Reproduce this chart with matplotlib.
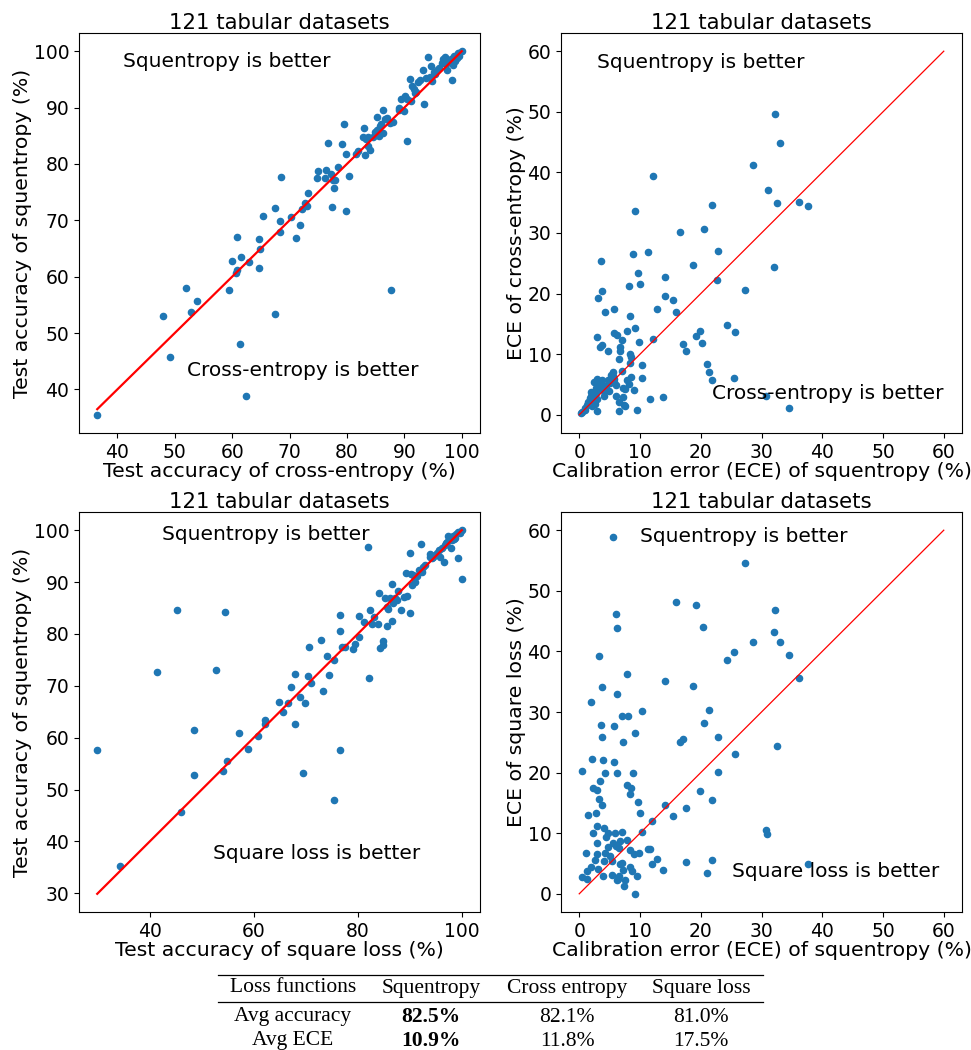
"""
Squentropy vs cross-entropy / square loss on 121 tabular datasets:
test accuracy and calibration error (ECE), one point per dataset.
"""

import matplotlib
matplotlib.use("Agg")
import matplotlib.pyplot as plt
from matplotlib.lines import Line2D


# Panel 1: accuracy, cross-entropy (x) vs squentropy (y)
acc_ce = [36.5, 47.9, 49.2, 52.0, 52.9, 53.9, 59.4, 60.0, 60.7, 60.8,
          60.9, 61.4, 61.5, 62.5, 63.0, 64.6, 64.6, 64.8, 65.4, 67.4,
          67.5, 68.3, 68.5, 68.3, 70.3, 71.1, 71.8, 72.2, 72.7, 73.0,
          73.3, 74.7, 75.0, 76.1, 76.3, 76.7, 77.3, 77.4, 77.8, 77.6,
          77.9, 78.5, 79.1, 79.4, 79.8, 79.9, 80.3, 81.6, 82.0, 82.8,
          83.0, 83.1, 83.3, 83.6, 83.7, 84.1, 84.6, 84.9, 85.2, 85.3,
          85.5, 85.8, 85.9, 86.3, 86.6, 86.9, 87.5, 87.6, 88.1, 89.0,
          89.1, 89.5, 89.9, 90.1, 90.4, 90.5, 91.0, 91.1, 91.3, 91.7,
          91.9, 92.3, 92.8, 93.2, 93.4, 93.8, 94.1, 94.5, 94.7, 94.8,
          95.1, 95.3, 95.6, 96.5, 96.8, 97.0, 97.2, 97.5, 97.7, 98.1,
          98.3, 98.5, 98.8, 99.0, 99.2, 99.4, 99.6, 100.0, 85.0, 98.3,
          98.5, 96.7, 99.2, 99.5, 86.2, 92.0, 96.1, 97.4, 98.6]
acc_sq_vs_ce = [35.5, 53.0, 45.8, 58.0, 53.7, 55.7, 57.7, 62.7, 60.6, 61.2,
                67.0, 48.1, 63.5, 38.9, 62.6, 66.6, 61.6, 65.0, 70.7, 72.1,
                53.3, 69.8, 77.6, 68.0, 70.6, 66.8, 69.1, 72.0, 73.1, 72.6,
                74.9, 77.5, 78.7, 77.5, 78.9, 83.7, 78.2, 72.4, 75.8, 77.2,
                77.2, 79.4, 83.5, 87.0, 81.8, 71.6, 77.9, 81.8, 82.3, 84.7,
                86.3, 81.6, 84.4, 84.8, 83.2, 82.5, 84.8, 85.7, 88.3, 86.1,
                84.9, 86.8, 87.1, 89.6, 88.0, 88.1, 87.3, 57.7, 87.4, 89.9,
                89.5, 91.5, 89.4, 92.0, 84.1, 91.6, 95.0, 91.2, 93.8, 93.3,
                92.6, 94.5, 94.8, 96.6, 90.6, 95.3, 99.0, 95.4, 97.3, 94.7,
                96.3, 95.9, 96.6, 97.9, 98.0, 99.0, 97.7, 96.7, 98.2, 98.6,
                94.8, 98.8, 98.3, 99.2, 99.4, 99.6, 99.7, 100.0, 85.2, 97.9,
                97.6, 98.6, 98.8, 99.2, 85.5, 92.7, 97.0, 98.5, 99.1]

# Panel 2: ECE, squentropy (x) vs cross-entropy (y)
ece_sq_a = [32.3, 33.0, 28.6, 12.1, 31.0, 32.5, 36.1, 37.6, 21.9, 9.2,
            20.5, 16.6, 22.8, 8.9, 11.4, 3.6, 32.1, 18.8, 9.7, 14.1,
            22.7, 10.0, 8.2, 27.3, 3.7, 14.1, 3.1, 15.4, 4.3, 5.7,
            12.8, 16.0, 8.3, 24.4, 9.1, 7.9, 19.9, 25.7, 5.8, 6.2,
            19.2, 2.9, 12.1, 7.1, 9.9, 20.2, 17.1, 3.7, 3.4, 6.7,
            6.7, 17.6, 4.7, 8.4, 8.6, 6.5, 10.3, 21.0, 8.3, 21.4,
            7.0, 5.6, 5.3, 3.8, 2.9, 2.5, 4.4, 4.9, 5.7, 5.8,
            6.1, 7.9, 8.2, 8.6, 10.3, 21.8, 25.5, 7.2, 7.6, 9.0,
            3.4, 4.1, 2.0, 2.7, 6.1, 7.2, 6.5, 7.3, 7.6, 3.0,
            1.5, 1.9, 11.6, 13.8, 30.8, 34.6, 9.5, 6.6, 3.0, 1.3,
            0.9, 0.5, 0.3, 2.1, 2.6, 4.0, 2.8, 3.3, 5.1, 4.3,
            1.8, 1.0, 4.7, 5.5, 2.4]
ece_ce = [49.7, 44.9, 41.2, 39.4, 37.1, 34.9, 35.1, 34.5, 34.6, 33.7,
          30.6, 30.2, 27.1, 26.6, 26.8, 25.4, 24.4, 24.7, 23.4, 22.7,
          22.3, 21.6, 21.2, 20.6, 20.4, 19.6, 19.2, 18.9, 16.9, 17.4,
          17.4, 16.9, 16.3, 14.9, 14.4, 13.9, 13.8, 13.6, 13.5, 13.2,
          13.0, 12.8, 12.5, 12.3, 12.0, 11.9, 11.7, 11.6, 11.2, 11.2,
          10.6, 10.6, 10.6, 10.0, 9.6, 9.2, 8.3, 8.4, 8.5, 7.0,
          7.2, 7.0, 6.6, 5.8, 5.9, 5.4, 4.8, 4.0, 5.9, 5.4,
          5.0, 5.7, 5.1, 6.2, 6.1, 5.7, 6.1, 4.5, 4.2, 4.1,
          4.3, 3.1, 3.8, 3.6, 3.1, 2.9, 2.1, 1.7, 1.5, 2.6,
          2.1, 3.1, 2.6, 3.0, 3.1, 1.1, 0.8, 0.7, 0.6, 1.6,
          1.1, 0.5, 0.3, 1.4, 1.8, 4.0, 4.5, 5.2, 5.2, 4.7,
          2.8, 0.8, 5.7, 6.4, 2.5]

# Panel 3: accuracy, square loss (x) vs squentropy (y)
acc_sl = [29.9, 34.2, 41.4, 45.3, 46.0, 48.6, 48.6, 52.7, 54.1, 54.5,
          54.8, 57.1, 58.9, 60.8, 62.2, 62.2, 64.9, 65.6, 66.5, 67.2,
          67.9, 67.9, 68.9, 69.5, 69.9, 70.5, 70.6, 71.0, 72.9, 73.4,
          74.1, 74.4, 75.4, 75.5, 76.6, 76.6, 76.6, 76.9, 77.6, 79.0,
          79.5, 80.2, 80.3, 81.2, 82.0, 82.2, 82.4, 82.7, 83.1, 83.8,
          84.0, 84.3, 84.8, 84.9, 85.3, 85.6, 85.7, 85.9, 86.2, 86.5,
          86.5, 86.7, 87.2, 87.8, 88.3, 88.8, 89.4, 89.3, 90.1, 90.1,
          90.2, 90.5, 90.7, 91.0, 91.7, 92.1, 92.3, 92.6, 92.9, 93.9,
          94.3, 94.8, 95.2, 95.7, 95.8, 96.2, 96.5, 97.0, 97.4, 97.9,
          98.1, 98.4, 98.7, 98.9, 99.2, 99.3, 99.6, 100.0, 100.0, 97.6,
          96.7, 99.7, 94.5, 97.2, 98.5, 93.8, 91.3, 87.5]
acc_sq_vs_sl = [57.6, 35.3, 72.6, 84.7, 45.7, 61.5, 52.8, 73.1, 53.6, 84.2,
                55.6, 60.9, 57.9, 60.4, 63.5, 62.6, 66.9, 65.0, 66.6, 69.8,
                72.3, 62.6, 67.9, 53.2, 66.7, 71.9, 77.5, 70.6, 78.9, 69.0,
                75.8, 72.0, 74.9, 47.9, 83.7, 80.5, 57.6, 77.5, 77.5, 77.1,
                78.1, 83.5, 79.4, 82.3, 96.7, 71.5, 84.7, 81.9, 83.3, 81.9,
                87.8, 77.3, 77.8, 78.6, 87.0, 85.1, 81.5, 84.9, 86.9, 89.6,
                82.4, 86.0, 87.0, 88.3, 84.7, 87.2, 87.3, 91.7, 95.6, 84.1,
                91.6, 89.4, 91.3, 90.0, 92.3, 97.4, 91.9, 92.9, 93.3, 95.5,
                94.6, 95.2, 95.6, 96.2, 94.8, 96.6, 93.8, 97.5, 98.9, 96.6,
                98.1, 98.9, 98.5, 99.2, 94.7, 99.6, 99.4, 90.5, 100.0, 98.3,
                97.2, 99.7, 94.9, 97.8, 98.3, 94.9, 91.1, 86.5]

# Panel 4: ECE, squentropy (x) vs square loss (y)
ece_sq_b = [5.5, 27.3, 16.0, 19.2, 32.3, 6.0, 6.2, 20.3, 32.1, 28.6,
            33.0, 25.5, 34.6, 3.2, 24.4, 7.8, 36.1, 14.1, 18.8, 3.7,
            6.2, 1.9, 10.4, 21.3, 7.1, 8.0, 20.5, 3.6, 5.7, 9.2,
            3.8, 22.8, 17.0, 16.6, 7.2, 32.5, 25.7, 2.1, 3.9, 5.8,
            0.4, 6.2, 4.3, 8.9, 22.8, 3.4, 7.8, 2.3, 2.9, 8.5,
            8.3, 19.8, 3.3, 21.9, 9.7, 3.7, 14.1, 17.6, 2.8, 1.4,
            10.0, 15.4, 12.0, 3.0, 4.0, 30.8, 30.9, 4.8, 2.2, 5.9,
            7.1, 10.3, 4.4, 3.0, 5.5, 6.7, 7.9, 6.0, 6.5, 8.3,
            4.8, 9.0, 9.8, 4.2, 2.9, 1.1, 5.1, 11.4, 11.7, 12.8,
            2.6, 4.1, 5.4, 6.7, 7.0, 12.0, 17.6, 21.8, 37.6, 2.0,
            3.1, 1.2, 7.2, 8.4, 8.7, 13.8, 21.0, 5.4, 9.5, 3.9,
            0.5, 1.3, 6.3, 6.6, 6.2, 7.6, 7.3, 9.1]
ece_sl = [58.8, 54.6, 48.2, 47.7, 46.8, 46.1, 43.9, 44.1, 43.2, 41.6,
          41.5, 39.9, 39.4, 39.2, 38.5, 36.2, 35.6, 35.1, 34.3, 34.1,
          33.0, 31.7, 30.2, 30.3, 29.3, 29.3, 28.2, 27.8, 27.7, 26.6,
          25.8, 25.9, 25.5, 25.1, 25.0, 24.4, 23.1, 22.3, 22.0, 21.8,
          20.3, 19.9, 19.9, 20.0, 20.1, 18.6, 17.9, 17.4, 17.1, 17.4,
          16.5, 17.0, 15.7, 15.4, 15.2, 14.7, 14.6, 14.2, 13.3, 13.0,
          13.4, 12.9, 12.0, 11.2, 10.8, 10.5, 9.9, 10.0, 10.0, 10.0,
          10.2, 10.2, 9.4, 8.4, 8.4, 8.7, 8.9, 7.9, 7.5, 7.3,
          7.8, 6.6, 6.8, 6.7, 6.6, 6.8, 6.3, 7.4, 7.4, 5.7,
          5.5, 5.4, 5.4, 5.0, 5.1, 5.0, 5.3, 5.5, 5.0, 4.5,
          4.1, 3.8, 3.9, 4.4, 3.8, 3.9, 3.4, 3.1, 3.0, 2.9,
          2.8, 2.5, 2.5, 2.9, 2.2, 2.3, 1.3, 0.0]

# Reference line for the ECE panels
ece_diag = [0, 60]

# Summary table
table_header = ["Loss functions", "Squentropy", "Cross entropy", "Square loss"]
table_rows = [["Avg accuracy", "82.5%", "82.1%", "81.0%"],
              ["Avg ECE", "10.9%", "11.8%", "17.5%"]]

FS_TICK = 13.5
FS_LABEL = 14.7
FS_TITLE = 15.3
FS_NOTE = 14.5
DOT = "#1f77b4"


def drawPanel(ax, x, y, xlabel, ylabel, textTop, textBottom, posTop, posBottom,
              diag=None, lw=1.6):
    """
    Scatter of one loss against another with a y = x reference line.
    """
    ax.scatter(x, y, s=20, color=DOT, zorder=2)
    if diag is None:
        lo, hi = min(x), max(x)
        diag = [lo, hi]
    ax.plot(diag, diag, color="red", linewidth=lw, zorder=3)

    ax.set_title("121 tabular datasets", fontsize=FS_TITLE, pad=3)
    ax.set_xlabel(xlabel, fontsize=FS_LABEL, labelpad=0)
    ax.set_ylabel(ylabel, fontsize=FS_LABEL, labelpad=1)
    ax.tick_params(labelsize=FS_TICK)
    ax.text(posTop[0], posTop[1], textTop, transform=ax.transAxes,
            fontsize=FS_NOTE, ha="left", va="center")
    ax.text(posBottom[0], posBottom[1], textBottom, transform=ax.transAxes,
            fontsize=FS_NOTE, ha="left", va="center")


def drawTable(fig):
    """
    Booktabs-style summary table under the panels.
    """
    serif = ["Liberation Serif", "DejaVu Serif"]
    colX = [293 / 971, 431 / 971, 567 / 971, 701 / 971]
    rowY = [1 - 988 / 1050, 1 - 1017 / 1050, 1 - 1041 / 1050]

    for yy in [1 - 975 / 1050, 1 - 1002 / 1050]:
        fig.add_artist(Line2D([218 / 971, 763 / 971], [yy, yy],
                              color="black", linewidth=0.9,
                              transform=fig.transFigure))

    for cx, label in zip(colX, table_header):
        fig.text(cx, rowY[0], label, family=serif, fontsize=15.5,
                 ha="center", va="center")
    for ry, row in zip(rowY[1:], table_rows):
        for i, (cx, cell) in enumerate(zip(colX, row)):
            weight = "bold" if i == 1 else "normal"
            fig.text(cx, ry, cell, family=serif, fontsize=15.5,
                     ha="center", va="center", weight=weight)


def main():
    fig = plt.figure(figsize=(9.71, 10.5), dpi=100)

    W, H = 971, 1050
    axW, axH = 401 / W, 400 / H
    ax1 = fig.add_axes([79 / W, 1 - 433 / H, axW, axH])
    ax2 = fig.add_axes([561 / W, 1 - 433 / H, axW, axH])
    ax3 = fig.add_axes([79 / W, 1 - 912 / H, axW, axH])
    ax4 = fig.add_axes([561 / W, 1 - 912 / H, axW, axH])

    drawPanel(ax1, acc_ce, acc_sq_vs_ce,
              "Test accuracy of cross-entropy (%)",
              "Test accuracy of squentropy (%)",
              "Squentropy is better", "Cross-entropy is better",
              (0.11, 0.928), (0.269, 0.155))
    drawPanel(ax2, ece_sq_a, ece_ce,
              "Calibration error (ECE) of squentropy (%)",
              "ECE of cross-entropy (%)",
              "Squentropy is better", "Cross-entropy is better",
              (0.091, 0.925), (0.376, 0.099), diag=ece_diag, lw=0.9)
    drawPanel(ax3, acc_sl, acc_sq_vs_sl,
              "Test accuracy of square loss (%)",
              "Test accuracy of squentropy (%)",
              "Squentropy is better", "Square loss is better",
              (0.208, 0.944), (0.335, 0.147))
    drawPanel(ax4, ece_sq_b, ece_sl,
              "Calibration error (ECE) of squentropy (%)",
              "ECE of square loss (%)",
              "Squentropy is better", "Square loss is better",
              (0.197, 0.938), (0.426, 0.101), diag=ece_diag, lw=0.9)

    for ax in (ax2, ax4):
        ax.set_xticks(range(0, 61, 10))
        ax.set_yticks(range(0, 61, 10))

    drawTable(fig)
    fig.savefig("out.png", dpi=100)


if __name__ == "__main__":
    main()
